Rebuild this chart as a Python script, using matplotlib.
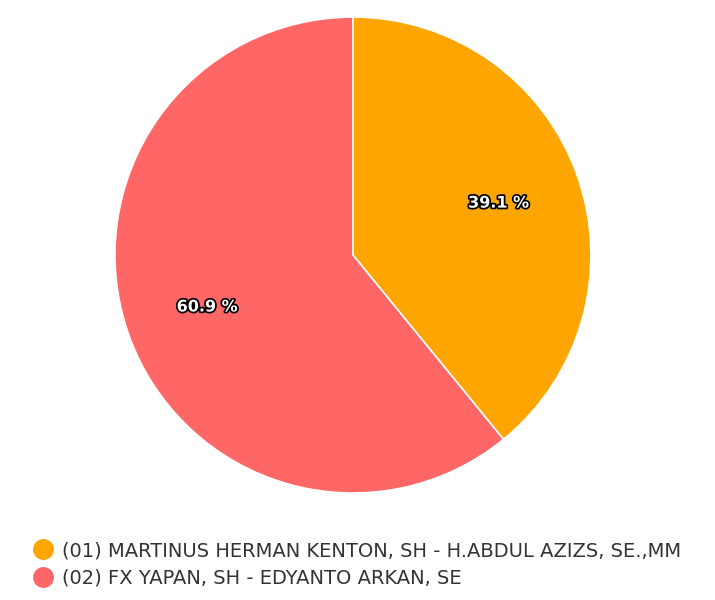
import matplotlib
matplotlib.use("Agg")
import matplotlib.pyplot as plt
import matplotlib.patheffects as pe
from matplotlib.lines import Line2D

labels = ["(01) MARTINUS HERMAN KENTON, SH - H.ABDUL AZIZS, SE.,MM",
          "(02) FX YAPAN, SH - EDYANTO ARKAN, SE"]
values = [39.1, 60.9]
colors = ["#FFA500", "#FF6666"]

fig = plt.figure(figsize=(7.15, 6.0), dpi=100)
ax = fig.add_axes([0.1608, 0.1783, 0.6657, 0.7933])
wedges, texts, autotexts = ax.pie(values, colors=colors, startangle=90, counterclock=False,
                                  autopct=lambda p: f"{p:.1f} %", pctdistance=0.65,
                                  wedgeprops=dict(edgecolor="white", linewidth=1.2))
for t in autotexts:
    t.set_color("white")
    t.set_fontsize(11.5)
    t.set_fontweight("bold")
    t.set_path_effects([pe.withStroke(linewidth=2.5, foreground="black")])
ax.set_xlim(-1, 1)
ax.set_ylim(-1, 1)
ax.set_aspect("equal")

handles = [Line2D([0], [0], marker="o", linestyle="", markersize=14,
                  markerfacecolor=c, markeredgecolor=c) for c in colors]
leg = fig.legend(handles, labels, loc="upper left", bbox_to_anchor=(0.034, 0.111),
                 frameon=False, fontsize=14.0, handletextpad=0.45, labelspacing=0.42,
                 handlelength=1.1, borderaxespad=0)
for t in leg.get_texts():
    t.set_color("#333333")

fig.savefig("out.png", dpi=100)
